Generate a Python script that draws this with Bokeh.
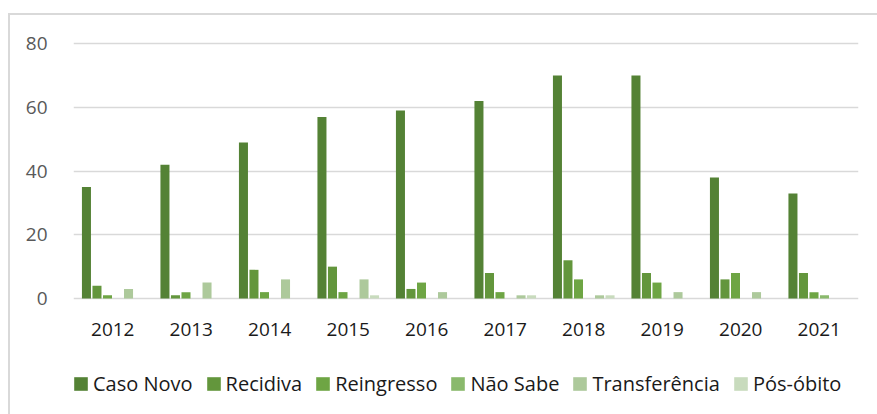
from bokeh.plotting import figure
from bokeh.models import ColumnDataSource, FactorRange, Range1d, Legend, LegendItem, FixedTicker
from bokeh.core.properties import value
from bokeh.transform import dodge
from bokeh.embed import file_html
from bokeh.resources import INLINE

years = ["2012", "2013", "2014", "2015", "2016", "2017", "2018", "2019", "2020", "2021"]
series_names = ["Caso Novo", "Recidiva", "Reingresso", "Não Sabe", "Transferência", "Pós-óbito"]
caso_novo = [35, 42, 49, 57, 59, 62, 70, 70, 38, 33]
recidiva = [4, 1, 9, 10, 3, 8, 12, 8, 6, 8]
reingresso = [1, 2, 2, 2, 5, 2, 6, 5, 8, 2]
nao_sabe = [0, 0, 0, 0, 0, 0, 0, 0, 0, 1]
transferencia = [3, 5, 6, 6, 2, 1, 1, 2, 2, 0]
pos_obito = [0, 0, 0, 1, 0, 1, 1, 0, 0, 0]
y_ticks = [0, 20, 40, 60, 80]

colors = ["#548235", "#63963c", "#6ea544", "#8ab96c", "#adc99b", "#c8dbbd"]
keys = ["caso_novo", "recidiva", "reingresso", "nao_sabe", "transferencia", "pos_obito"]

source = ColumnDataSource(data=dict(
    years=years, caso_novo=caso_novo, recidiva=recidiva, reingresso=reingresso,
    nao_sabe=nao_sabe, transferencia=transferencia, pos_obito=pos_obito))

FONT = "Open Sans"

# frame spans down to the bottom of the canvas so the legend (drawn inside the
# frame) is not clipped; the value axis still starts at 0 where the bars start
p = figure(x_range=FactorRange(*years), y_range=Range1d(-36.42, 81),
           width=877, height=414, output_backend="svg", toolbar_location=None,
           x_axis_location=None,
           min_border_left=73, min_border_right=19, min_border_top=40, min_border_bottom=0)
p.outline_line_color = None
p.background_fill_color = "white"
p.border_fill_alpha = 0
p.styles = {
    "background": "linear-gradient(#d9d9d9,#d9d9d9) 8px 13px / 2px 100% no-repeat, "
                  "linear-gradient(#d9d9d9,#d9d9d9) 8px 13px / 100% 2px no-repeat, white"
}

slot = 0.134
items = []
for i, (k, name, c) in enumerate(zip(keys, series_names, colors)):
    off = (i - 2.5) * slot
    r = p.vbar(x=dodge("years", off, range=p.x_range), top=k, bottom=0, width=0.115,
               source=source, color=c, line_color=None)
    items.append(LegendItem(label=name, renderers=[r]))

# category labels under the zero line
p.text(x="years", y=0, text="years", source=source, y_offset=31,
       text_align="center", text_baseline="middle",
       text_font=value(FONT), text_font_size="19px", text_color="#1a1a1a")

p.x_range.range_padding = 0
p.x_range.group_padding = 0

p.xgrid.grid_line_color = None
p.ygrid.grid_line_color = "#d9d9d9"
p.ygrid.grid_line_width = 1.5
p.yaxis.ticker = FixedTicker(ticks=y_ticks)

p.yaxis.axis_line_color = None
p.yaxis.major_tick_line_color = None
p.yaxis.minor_tick_line_color = None
p.yaxis.major_label_standoff = 20
p.yaxis.major_label_text_font = FONT
p.yaxis.major_label_text_font_size = "19px"
p.yaxis.major_label_text_color = "#595959"

legend = Legend(items=items, orientation="horizontal", location=(-1, 17),
                padding=0, margin=0, spacing=12, label_standoff=4,
                glyph_width=17, glyph_height=17,
                label_text_font=FONT, label_text_font_size="20px",
                label_text_color="#1a1a1a", border_line_color=None,
                background_fill_alpha=0)
p.add_layout(legend, "center")

open("out.html", "w").write(file_html(p, INLINE))
